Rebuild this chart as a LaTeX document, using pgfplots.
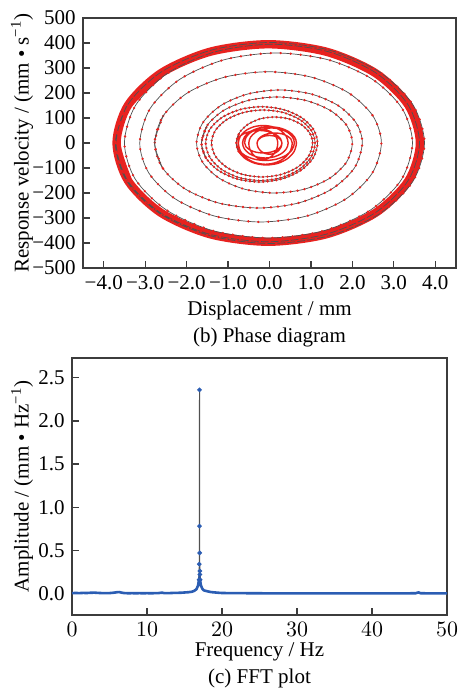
\documentclass[border=0pt]{standalone}
\usepackage{fontspec}
\setmainfont{Liberation Serif}
\usepackage{pgfplots}
\pgfplotsset{compat=1.18}
\definecolor{myred}{HTML}{E8221F}
\definecolor{myblue}{HTML}{2B5DB3}
\definecolor{axgray}{HTML}{3C3C3C}
\definecolor{linegray}{HTML}{505050}
\tikzset{dotted ring/.style={smooth, linegray, line width=0.35pt,
  postaction={draw=myred, line width=1.3pt, line cap=round, dash pattern=on 0pt off #1}}}
\begin{document}
\fontsize{10.5}{13}\selectfont
\begin{tikzpicture}
\path[use as bounding box] (0,0) rectangle (229.5pt,344pt);
\pgfplotsset{every axis/.append style={scale only axis,
  axis line style={axgray, line width=0.6pt},
  tick style={axgray, line width=0.6pt},
  tick align=inside, major tick length=3.5pt,
  xtick pos=bottom, ytick pos=left,
  tick label style={font=\fontsize{10.5}{12}\selectfont},
  label style={font=\fontsize{10.5}{13.5}\selectfont}}}
% ---------------- (b) phase diagram ----------------
\begin{axis}[at={(41.5pt,210pt)}, anchor=south west,
  width=186.5pt, height=125pt,
  xmin=-4.5, xmax=4.5, ymin=-500, ymax=500,
  xtick={-4,-3,-2,-1,0,1,2,3,4},
  xticklabels={−4.0,−3.0,−2.0,−1.0,0.0,1.0,2.0,3.0,4.0},
  ytick={-500,-400,-300,-200,-100,0,100,200,300,400,500},
  yticklabels={−500,−400,−300,−200,−100,0,100,200,300,400,500},
  xlabel={Displacement / mm\\(b) Phase diagram},
  xlabel style={at={(axis description cs:0.5,0)}, anchor=center, yshift=-27.75pt, align=center},
  ylabel={Response velocity / (mm • s\textsuperscript{−1})},
  ylabel style={at={(axis description cs:-0.1635,0.5)}, anchor=center},
]
% steady-state band
\addplot[smooth, myred, line width=4.2pt, line cap=round] coordinates {
(-3.412,-151.3)(-3.69,0)(-3.412,151.3)(-2.618,279.3)(-1.432,365)(-0.03,395)(1.372,365)(2.558,279.3)(3.352,151.3)(3.63,0)
(3.352,-151.3)(2.558,-279.3)(1.372,-365)(-0.03,-395)(-1.432,-365)(-2.618,-279.3)(-3.412,-151.3)(-3.69,0)(-3.412,151.3)(-2.618,279.3)};
% chaotic centre
\addplot[smooth, myred, line width=0.7pt] coordinates {
(-0.3,0)
(-0.277,11.5)(-0.212,21.2)(-0.115,27.7)(0,30)(0.115,27.7)(0.212,21.2)(0.277,11.5)(0.3,0)
(0.266,-15.3)(0.168,-28.3)(0.022,-37)(-0.15,-40)(-0.322,-37)(-0.468,-28.3)(-0.566,-15.3)(-0.6,0)
(-0.570,21.1)(-0.483,38.9)(-0.353,50.8)(-0.2,55)(-0.047,50.8)(0.083,38.9)(0.170,21.1)(0.2,0)
(0.173,-24.9)(0.097,-46)(-0.016,-60.1)(-0.15,-65)(-0.284,-60.1)(-0.397,-46)(-0.473,-24.9)(-0.5,0)
(-0.458,23)(-0.339,42.4)(-0.161,55.4)(0.05,60)(0.261,55.4)(0.439,42.4)(0.558,23)(0.6,0)
(0.547,-26.8)(0.395,-49.5)(0.168,-64.7)(-0.1,-70)(-0.368,-64.7)(-0.595,-49.5)(-0.747,-26.8)(-0.8,0)
(-0.758,19.2)(-0.639,35.4)(-0.461,46.2)(-0.25,50)(-0.039,46.2)(0.139,35.4)(0.258,19.2)(0.3,0)
(0.277,-17.2)(0.212,-31.8)(0.115,-41.6)(0,-45)(-0.115,-41.6)(-0.212,-31.8)(-0.277,-17.2)(-0.3,0)
(-0.268,15.3)(-0.175,28.3)(-0.038,37)(0.125,40)(0.288,37)(0.425,28.3)(0.518,15.3)(0.55,0)
(0.501,-32.6)(0.360,-60.1)(0.149,-78.5)(-0.1,-85)(-0.349,-78.5)(-0.560,-60.1)(-0.701,-32.6)(-0.75,0)
(-0.704,26.8)(-0.574,49.5)(-0.380,64.7)(-0.15,70)(0.080,64.7)(0.274,49.5)(0.404,26.8)(0.45,0)
(0.408,-23)(0.289,-42.4)(0.111,-55.4)(-0.1,-60)(-0.311,-55.4)(-0.489,-42.4)(-0.608,-23)(-0.65,0)
(-0.601,24.9)(-0.460,46)(-0.249,60.1)(0,65)(0.249,60.1)(0.460,46)(0.601,24.9)(0.65,0)
(0.595,-33.7)(0.438,-62.2)(0.203,-81.3)(-0.075,-88)(-0.353,-81.3)(-0.588,-62.2)(-0.745,-33.7)(-0.8,0)
(-0.730,39.8)};
% growing spiral: inner rings
\addplot[dotted ring=2.2pt] coordinates {(-0.745,-33.7)(-0.8,0)
(-0.730,39.8)(-0.530,73.5)(-0.232,96.1)(0.12,104)(0.472,96.1)(0.770,73.5)(0.970,39.8)(1.04,0)
(0.947,-52.1)(0.683,-96.2)(0.287,-125.7)(-0.18,-136)(-0.647,-125.7)(-1.043,-96.2)(-1.307,-52.1)(-1.40,0)
(-1.305,50.6)(-1.034,93.3)(-0.629,122)(-0.15,132)(0.329,122)(0.734,93.3)(1.005,50.6)(1.10,0)
(1.0,-57.5)(0.713,-106.1)(0.286,-138.6)(-0.22,-150)(-0.726,-138.6)(-1.153,-106.1)(-1.44,-57.5)(-1.54,0)
(-1.437,55.5)(-1.144,102.5)(-0.707,134)(-0.19,145)(0.327,134)(0.764,102.5)(1.057,55.5)(1.16,0)
(1.054,-59.7)(0.75,-110.3)(0.296,-144.1)(-0.24,-156)(-0.776,-144.1)(-1.23,-110.3)(-1.534,-59.7)(-1.64,0)
(-1.502,70.5)};
% middle rings
\addplot[dotted ring=3.5pt] coordinates {(-1.534,-59.7)(-1.64,0)
(-1.502,70.5)(-1.107,130.1)(-0.517,170)(0.18,184)(0.877,170)(1.467,130.1)(1.862,70.5)(2.0,0)
(1.857,-76.6)(1.449,-141.4)(0.84,-184.8)(0.12,-200)(-0.6,-184.8)(-1.209,-141.4)(-1.617,-76.6)(-1.76,0)
(-1.608,81.2)(-1.174,149.9)(-0.526,195.9)(0.24,212)(1.006,195.9)(1.654,149.9)(2.088,81.2)(2.24,0)
(2.05,-99.6)(1.506,-183.8)(0.694,-240.2)(-0.265,-260)(-1.224,-240.2)(-2.036,-183.8)(-2.58,-99.6)(-2.77,0)
(-2.562,109.2)};
% outer rings
\addplot[dotted ring=5pt] coordinates {(-2.58,-99.6)(-2.77,0)
(-2.562,109.2)(-1.969,201.5)(-1.083,263.3)(-0.035,285)(1.013,263.3)(1.899,201.5)(2.492,109.2)(2.70,0)
(2.478,-121)(1.846,-223.4)(0.901,-292)(-0.215,-316)(-1.331,-292)(-2.276,-223.4)(-2.908,-121)(-3.13,0)
(-2.88,137.9)(-2.166,254.5)(-1.10,332.6)(0.16,360)(1.42,332.6)(2.486,254.5)(3.20,137.9)(3.45,0)
(3.186,-145.5)(2.432,-268.7)(1.306,-351.1)(-0.025,-380)(-1.356,-351.1)(-2.482,-268.7)(-3.236,-145.5)(-3.50,0)
(-3.229,151.3)(-2.457,279.3)(-1.303,365)(0.06,395)(1.423,365)(2.577,279.3)(3.349,151.3)(3.62,0)
(3.342,-151.3)(2.548,-279.3)(1.362,-365)(-0.04,-395)(-1.442,-365)(-2.628,-279.3)(-3.422,-151.3)(-3.70,0)
(-3.417,154)(-2.61,284.2)(-1.405,371.4)(0.02,402)(1.445,371.4)(2.65,284.2)(3.457,154)(3.74,0)
(3.457,-154)(2.647,-284.2)(1.439,-371.4)(0.01,-402)(-1.419,-371.4)(-2.627,-284.2)(-3.437,-154)(-3.72,0)
(-3.44,152)};
\end{axis}
% ---------------- (c) FFT plot ----------------
\begin{axis}[at={(36pt,36.5pt)}, anchor=south west,
  width=187.5pt, height=128.5pt,
  xmin=0, xmax=50, ymin=-0.25, ymax=2.73,
  xtick={0,10,20,30,40,50},
  ytick={0,0.5,1,1.5,2,2.5},
  yticklabels={0.0,0.5,1.0,1.5,2.0,2.5},
  xlabel={Frequency / Hz\\(c) FFT plot},
  xlabel style={at={(axis description cs:0.5,0)}, anchor=center, yshift=-25pt, align=center},
  ylabel={Amplitude / (mm • Hz\textsuperscript{−1})},
  ylabel style={at={(axis description cs:-0.133,0.5)}, anchor=center},
]
\addplot[myblue, line width=1.3pt] coordinates {
(0,0.004)(0.5,0.005)(1,0.004)(1.5,0.006)(2,0.005)(2.5,0.008)(3,0.009)(3.5,0.006)(4,0.004)(4.5,0.003)
(5,0.004)(5.5,0.008)(6,0.014)(6.3,0.016)(6.6,0.009)(7,0.004)(7.5,0.002)(8,0.003)(8.5,0.002)(9,0.003)
(9.5,0.002)(10,0.003)(10.5,0.002)(11,0.003)(11.5,0.004)(12,0.009)(12.3,0.004)(12.6,0.003)(13,0.004)
(13.5,0.006)(14,0.007)(14.5,0.008)(15,0.011)(15.5,0.014)(16,0.02)(16.3,0.03)(16.6,0.05)(16.8,0.09)
(16.9,0.14)(17.0,0.19)(17.1,0.14)(17.2,0.09)(17.4,0.05)(17.6,0.035)(17.9,0.028)(18.2,0.022)(18.6,0.015)
(19,0.012)(19.5,0.008)(20,0.005)(21,0.004)(22,0.003)(23,0.003)(24,0.002)(25,0.002)(26,0.001)(28,0.001)
(30,0.001)(32,0.001)(34,0.001)(36,0.001)(38,0.001)(40,0.001)(42,0.001)(44,0.001)(45.8,0.002)(46.2,0.012)
(46.5,0.002)(48,0.001)(50,0.001)};
\addplot[linegray, line width=0.5pt, mark=*, mark size=0.9pt, mark options={myblue, draw=myblue, fill=myblue}] coordinates {
(16.95,0.16)(16.97,0.34)(16.99,0.78)(17.0,2.36)(17.02,0.47)(17.04,0.26)(17.06,0.22)(17.08,0.16)};
\end{axis}
\end{tikzpicture}
\end{document}
